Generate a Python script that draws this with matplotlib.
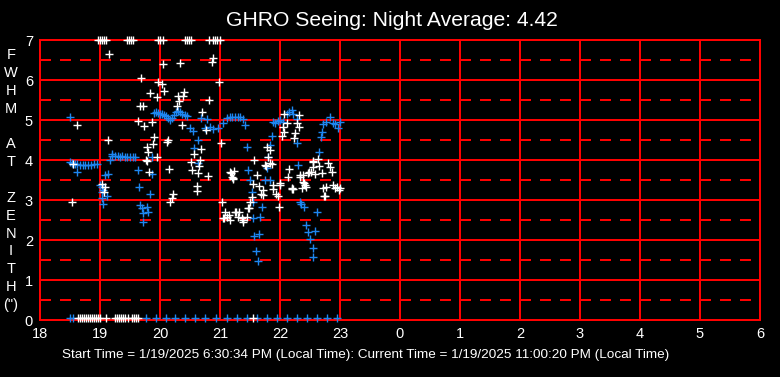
import matplotlib
matplotlib.use("Agg")
import matplotlib.pyplot as plt

plt.rcParams['font.family'] = ['Liberation Sans', 'DejaVu Sans']

title = "GHRO Seeing: Night Average: 4.42"
footer = ("Start Time = 1/19/2025 6:30:34 PM (Local Time): "
          "Current Time = 1/19/2025 11:00:20 PM (Local Time)")
ylabel_lines = ["F", "W", "H", "M", "", "A", "T", "", "Z", "E", "N", "I", "T", "H", "(\")"]
x_ticks = list(range(18, 31))
x_tick_labels = ["18", "19", "20", "21", "22", "23", "0", "1", "2", "3", "4", "5", "6"]
y_ticks = list(range(0, 8))

# Blue series (hours since midnight, FWHM arcsec)
blue_t = [18.50, 18.50, 18.53, 18.55, 18.58, 18.62, 18.62, 18.67, 18.72, 18.75, 18.80,
          18.85, 18.90, 18.95, 19.00, 19.03, 19.03, 19.05, 19.05, 19.12, 19.03,
          19.08, 19.13, 19.17, 19.20, 19.20, 19.25, 19.30, 19.33, 19.37, 19.42,
          19.45, 19.50, 19.55, 19.58, 19.63, 19.65, 19.67, 19.70, 19.72, 19.72,
          19.78, 19.80, 19.83, 19.87, 19.87, 19.90, 19.93, 19.97, 20.00, 20.03,
          20.07, 20.10, 20.13, 20.17, 20.20, 20.23, 20.27, 20.30, 20.33, 20.37,
          20.42, 20.45, 20.50, 20.55, 20.57, 20.63, 20.63, 20.68, 20.75, 20.78,
          20.83, 20.88, 20.97, 21.05, 21.12, 21.17, 21.20, 21.25, 21.30, 21.33,
          21.38, 21.42, 21.45, 21.47, 21.50, 21.53, 21.55, 21.55, 21.57, 21.60,
          21.63, 21.65, 21.67, 21.70, 21.75, 21.78, 21.80, 21.83, 21.83, 21.87,
          21.88, 21.92, 21.97, 22.00, 22.05, 22.12, 22.15, 22.20, 22.22, 22.28,
          22.28, 22.30, 22.33, 22.35, 22.40, 22.43, 22.47, 22.50, 22.55, 22.55,
          22.58, 22.62, 22.65, 22.68, 22.70, 22.72, 22.77, 22.83, 22.88, 22.92,
          22.97, 23.00]
blue_v = [5.08, 3.95, 3.93, 3.90, 3.90, 3.70, 3.90, 3.88, 3.88, 3.88, 3.88,
          3.88, 3.90, 3.90, 3.38, 3.05, 3.33, 2.90, 3.25, 3.10, 3.20,
          3.63, 3.65, 4.00, 4.15, 4.10, 4.10, 4.10, 4.08, 4.10, 4.08,
          4.08, 4.08, 4.08, 4.08, 3.75, 3.33, 2.88, 2.80, 2.68, 2.45,
          2.83, 2.70, 3.15, 4.08, 3.65, 5.18, 5.20, 5.18, 5.15, 5.15,
          5.13, 5.10, 5.05, 5.00, 5.05, 5.13, 5.20, 5.22, 5.20, 5.15,
          5.13, 5.10, 4.80, 4.73, 4.30, 4.50, 3.93, 5.05, 4.80, 5.03,
          4.83, 4.78, 4.80, 4.93, 5.05, 5.08, 5.08, 5.08, 5.08, 5.08,
          5.03, 4.88, 4.33, 3.75, 3.50, 3.20, 2.95, 2.55, 2.10, 1.73,
          1.48, 2.15, 2.58, 2.83, 3.50, 3.80, 4.08, 4.38, 3.50, 4.60,
          4.95, 4.93, 4.98, 5.00, 4.95, 5.15, 5.20, 5.25, 5.15, 5.03,
          4.43, 3.88, 2.95, 2.90, 2.83, 2.38, 2.20, 2.03, 1.80, 1.58,
          2.23, 2.70, 4.20, 4.58, 4.70, 4.90, 4.95, 5.08, 4.93, 4.90,
          4.80, 4.95]
blue_floor_t = [18.50, 18.55, 19.77, 19.93, 20.10, 20.25, 20.42, 20.58, 20.75, 20.93,
                21.12, 21.28, 21.45, 21.62, 21.78, 21.95, 22.12, 22.28, 22.45,
                22.62, 22.78, 22.95]
blue_floor_v = [0.05] * len(blue_floor_t)

# White series
white_t = [19.15, 20.88, 20.87, 20.05, 20.33, 19.68, 19.97, 20.03, 20.98, 19.83,
           20.07, 19.95, 20.30, 20.40, 20.38, 20.32, 20.82, 19.67, 19.72, 20.28,
           20.70, 19.63, 19.73, 19.87, 20.37, 20.77, 19.13, 19.90, 19.88, 19.78,
           20.13, 20.12, 21.02, 20.68, 19.80, 19.95, 19.78, 20.52, 20.57, 20.67,
           20.15, 20.53, 20.65, 20.63, 20.80, 19.82, 21.17, 21.23, 21.20, 21.22,
           21.57, 21.75, 21.62, 21.80, 21.77, 19.03, 19.08, 19.07, 19.77, 21.55,
           21.65, 21.72, 21.72, 21.53, 21.50, 20.62, 20.62, 20.22, 20.20, 20.17,
           21.03, 21.08, 21.12, 21.05, 21.17, 21.27, 21.32, 21.30, 21.37, 21.38,
           21.45, 21.47, 21.83, 21.18, 21.22, 21.68, 21.88, 21.88, 22.00, 21.93,
           21.97, 22.15, 22.13, 22.20, 22.22, 22.33, 22.38, 22.40, 22.43, 22.47,
           22.52, 22.55, 22.58, 22.65, 22.55, 22.63, 22.70, 22.80, 22.83, 22.87,
           22.72, 22.73, 22.77, 22.88, 22.92, 22.95, 22.98, 21.98, 21.07, 21.15,
           21.25, 21.38, 21.48, 22.07, 22.32, 22.28, 22.12, 22.05, 22.32, 22.07,
           22.25, 22.03, 22.23, 21.78, 21.83, 22.55, 22.48, 22.38, 22.33, 22.00,
           21.87, 22.20, 22.37, 22.42, 22.75, 23.00, 18.62, 18.55, 18.53]
white_v = [6.65, 6.55, 6.45, 6.40, 6.43, 6.05, 5.95, 5.90, 5.95, 5.68,
           5.73, 5.58, 5.60, 5.70, 5.60, 5.48, 5.50, 5.35, 5.35, 5.35,
           5.20, 4.98, 4.85, 4.95, 4.88, 4.75, 4.50, 4.58, 4.40, 4.33,
           4.50, 4.45, 4.43, 4.28, 4.20, 4.08, 3.98, 3.95, 4.15, 4.00,
           3.78, 3.75, 3.85, 3.68, 3.60, 3.70, 3.70, 3.73, 3.58, 3.55,
           4.00, 3.88, 3.63, 4.08, 3.85, 3.40, 3.33, 3.20, 4.00, 3.40,
           3.35, 3.25, 3.13, 3.08, 2.95, 3.35, 3.23, 3.15, 3.05, 2.95,
           2.95, 2.70, 2.58, 2.55, 2.50, 2.70, 2.70, 2.58, 2.55, 2.45,
           2.58, 2.80, 3.93, 3.68, 3.53, 3.15, 3.28, 3.38, 3.43, 3.15,
           3.10, 3.78, 3.58, 3.28, 3.28, 3.63, 3.45, 3.43, 3.33, 3.68,
           3.70, 3.83, 3.65, 3.85, 3.95, 4.03, 3.68, 3.93, 3.83, 3.70,
           3.30, 3.10, 3.33, 3.38, 3.30, 3.33, 3.25, 2.83, 2.55, 2.63,
           2.70, 2.50, 2.80, 5.15, 5.13, 4.93, 4.93, 4.83, 4.83, 4.70,
           4.68, 4.60, 4.55, 4.33, 4.25, 3.98, 3.70, 3.63, 3.58, 3.38,
           3.90, 3.30, 3.30, 3.38, 3.10, 3.30, 4.88, 3.90, 2.95]
white_top_t = [18.97, 19.00, 19.03, 19.07, 19.10, 19.45, 19.48, 19.52, 19.55,
               19.97, 20.00, 20.05, 20.42, 20.45, 20.48, 20.52,
               20.82, 20.88, 20.92, 20.95, 21.00]
white_top_v = [7.0] * len(white_top_t)
white_floor_t = [18.63, 18.67, 18.70, 18.73, 18.77, 18.80, 18.83, 18.87, 18.90,
                 18.93, 18.97, 19.00, 19.10, 19.25, 19.28, 19.32, 19.35, 19.38,
                 19.42, 19.47, 19.53, 19.57, 19.60, 19.63, 21.55]
white_floor_v = [0.05] * len(white_floor_t)

BG = "black"
RED = "#ff0000"
BLUE = "#1e86f0"
LW = 1.44

fig = plt.figure(figsize=(7.8, 3.77), dpi=100, facecolor=BG)
ax = fig.add_axes([40 / 780, 57 / 377, 720 / 780, 280 / 377])
ax.set_facecolor(BG)
ax.set_xlim(18, 30)
ax.set_ylim(0, 7)

for yv in y_ticks:
    ax.axhline(yv, color=RED, lw=LW, zorder=1)
for yv in [i + 0.5 for i in range(7)]:
    ax.axhline(yv, color=RED, lw=LW, ls=(0, (5.5, 4.5)), zorder=1)
for xv in x_ticks:
    ax.axvline(xv, color=RED, lw=LW, zorder=1)
for s in ax.spines.values():
    s.set_color(RED)
    s.set_linewidth(LW)

mk = dict(marker='+', ls='none', ms=5.5, mew=1.0, clip_on=False, zorder=3)
ax.plot(blue_t, blue_v, color=BLUE, **mk)
ax.plot(blue_floor_t, blue_floor_v, color=BLUE, **mk)
ax.plot(white_t, white_v, color='white', **mk)
ax.plot(white_top_t, white_top_v, color='white', **mk)
ax.plot(white_floor_t, white_floor_v, color='white', **mk)

ax.set_xticks(x_ticks)
ax.set_xticklabels(x_tick_labels)
ax.set_yticks(y_ticks)
ax.tick_params(colors='white', labelsize=10.5, length=0, pad=5)

fig.text(392 / 780, 1 - 21 / 377, title, color='white', fontsize=15.2,
         ha='center', va='center')
fig.text(366 / 780, 1 - 355 / 377, footer, color='white', fontsize=9.7,
         ha='center', va='center')
fig.text(11 / 780, 1 - 180 / 377, "\n".join(ylabel_lines), color='white',
         fontsize=10.5, ha='center', va='center', linespacing=1.35)

fig.savefig("out.png", dpi=100, facecolor=BG)
